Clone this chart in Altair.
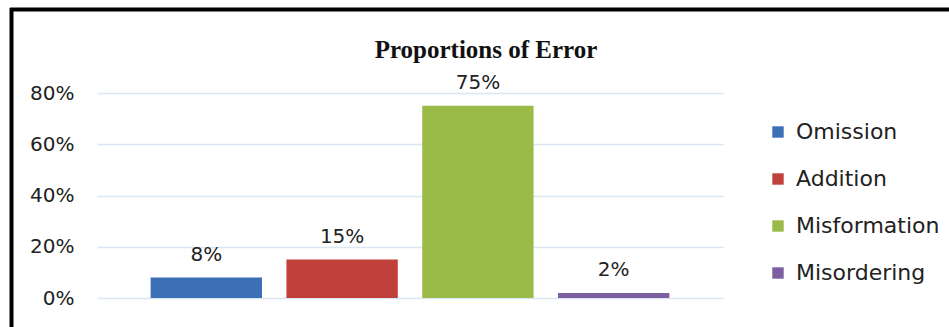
import altair as alt
import pandas as pd

categories = ["Omission", "Addition", "Misformation", "Misordering"]
values = [0.08, 0.15, 0.75, 0.02]
labels = ["8%", "15%", "75%", "2%"]
colors = ["#3b6fb6", "#c0403c", "#9bbb48", "#7d5ea0"]
y_ticks = [0, 0.2, 0.4, 0.6, 0.8]
title_text = "Proportions of Error"

df = pd.DataFrame({"category": categories, "value": values, "label": labels})

x_enc = alt.X("category:N", sort=categories, axis=None,
              scale=alt.Scale(paddingInner=0.18, paddingOuter=0.395))
y_enc = alt.Y("value:Q",
              scale=alt.Scale(domain=[0, 0.8], nice=False),
              axis=alt.Axis(values=y_ticks, format=".0%", title=None, domain=False,
                            ticks=False, labelPadding=23, labelFont="DejaVu Sans",
                            labelFontSize=20, labelColor="#222222",
                            gridColor="#dce6f2", gridWidth=1.5))

bars = alt.Chart(df).mark_bar().encode(
    x=x_enc,
    y=y_enc,
    color=alt.Color("category:N", sort=categories,
                    scale=alt.Scale(domain=categories, range=colors),
                    legend=alt.Legend(title=None, orient="none", legendX=670, legendY=28,
                                      symbolType="square", symbolSize=130,
                                      symbolStrokeWidth=0, labelFont="DejaVu Sans",
                                      labelFontSize=22, labelColor="#222222",
                                      rowPadding=25, labelOffset=7)),
)

text = alt.Chart(df).mark_text(baseline="alphabetic", dy=-17, font="DejaVu Sans",
                               fontSize=20, color="#222222").encode(
    x=alt.X("category:N", sort=categories, axis=None),
    y="value:Q",
    text="label:N",
)

frame = pd.DataFrame({"k": [0], "title": [title_text]})
title = alt.Chart(frame).mark_text(font="Liberation Serif", fontSize=25, fontWeight="bold",
                                   color="#111111", baseline="alphabetic", align="center").encode(
    x=alt.value(389), y=alt.value(-35), text="title:N")
top_rule = alt.Chart(frame).mark_rule(color="black", strokeWidth=4).encode(
    x=alt.value(-87), x2=alt.value(900), y=alt.value(-83.5))
left_rule = alt.Chart(frame).mark_rule(color="black", strokeWidth=4).encode(
    x=alt.value(-85.5), y=alt.value(-85), y2=alt.value(300))

chart = alt.layer(bars, text, title, top_rule, left_rule).properties(
    width=626, height=205,
    autosize=alt.AutoSizeParams(type="none"),
    padding={"left": 97, "top": 93, "right": 226, "bottom": 29},
    background="white",
).configure_view(strokeWidth=0, stroke="transparent")

chart.save("out.html", embed_options={"renderer": "svg", "actions": False})
